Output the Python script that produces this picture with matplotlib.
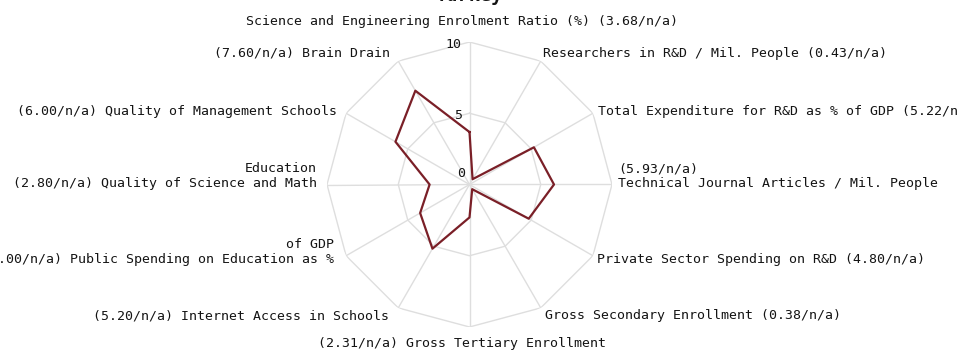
import numpy as np
from matplotlib import pyplot as plt

# axes go clockwise from the top
labels = [
    "Science and Engineering Enrolment Ratio (%) (3.68/n/a)",
    "Researchers in R&D / Mil. People (0.43/n/a)",
    "Total Expenditure for R&D as % of GDP (5.22/n/a)",
    "(5.93/n/a)\nTechnical Journal Articles / Mil. People",
    "Private Sector Spending on R&D (4.80/n/a)",
    "Gross Secondary Enrollment (0.38/n/a)",
    "(2.31/n/a) Gross Tertiary Enrollment",
    "(5.20/n/a) Internet Access in Schools",
    "of GDP\n(4.00/n/a) Public Spending on Education as %",
    "Education\n(2.80/n/a) Quality of Science and Math",
    "(6.00/n/a) Quality of Management Schools",
    "(7.60/n/a) Brain Drain",
]
values = [3.68, 0.43, 5.22, 5.93, 4.80, 0.38, 2.31, 5.20, 4.00, 2.80, 6.00, 7.60]
rings = [5, 10]
ticks = [0, 5, 10]
title = "Turkey"

# label placement (pixel offsets from the outer vertex)
lab_off = [(-7, 20), (2, 8), (5, 2), (6, 8), (4, -4), (4, -8),
           (-8, -16), (-9, -8), (-12, 4), (-10, 8), (-9, 2), (-8, 8)]
lab_ha = ['center', 'left', 'left', 'left', 'left', 'left',
          'center', 'right', 'right', 'right', 'right', 'right']
tick_off = [(-8, 11), (-11, -2), (-16, -3)]

grid_col = '#dedede'
line_col = '#7a1f27'
txt_col = '#141414'
fnt = 'DejaVu Sans Mono'

n = len(values)
theta = np.arange(n) * 2 * np.pi / n
th_closed = np.append(theta, theta[0])

fig = plt.figure(figsize=(9.57, 3.57), dpi=100)
cx, cy, R = 469.5, 357 - 184.5, 142.5
ax = fig.add_axes([(cx - R) / 957, (cy - R) / 357, 2 * R / 957, 2 * R / 357],
                  projection='polar')
ax.set_theta_zero_location('N')
ax.set_theta_direction(-1)
ax.set_ylim(0, 10)
ax.set_axis_off()

# polygon grid + spokes
for lv in rings:
    ax.plot(th_closed, [lv] * (n + 1), color=grid_col, lw=1.0, zorder=1)
for t in theta:
    ax.plot([t, t], [0, rings[-1]], color=grid_col, lw=1.0, zorder=1)

ax.plot(th_closed, np.append(values, values[0]), color=line_col, lw=1.6, zorder=3)

for i, lab in enumerate(labels):
    ax.annotate(lab, xy=(theta[i], 10), xytext=lab_off[i], textcoords='offset pixels',
                ha=lab_ha[i], va='center', multialignment=lab_ha[i],
                fontsize=9.5, family=fnt, color=txt_col, annotation_clip=False)

for i, tk in enumerate(ticks):
    ax.annotate(str(tk), xy=(0, tk), xytext=tick_off[i], textcoords='offset pixels',
                ha='center', va='center', fontsize=9.5, family=fnt, color=txt_col,
                annotation_clip=False)

# title is mostly cut off at the top in the original
fig.text(469 / 957, 1.013, title, ha='center', va='center', fontsize=13.5,
         family=fnt, weight='bold', color=txt_col)

fig.savefig('out.png', dpi=100)
